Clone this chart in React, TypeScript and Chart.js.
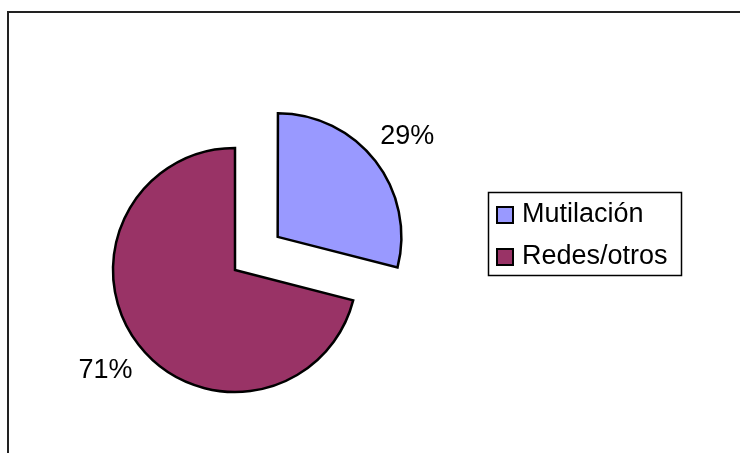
import React, { useEffect, useRef } from "react";
import { Chart, registerables } from "chart.js";

Chart.register(...registerables);

const categories = ["Mutilación", "Redes/otros"];
const values = [29, 71];
const valueLabels = ["29%", "71%"];
const colors = ["#9999FF", "#993366"];
const explode = [54, 0]; // pixels the slice is pulled out

const FONT = "27px 'Liberation Sans', Arial, sans-serif";

export default function App() {
  const ref = useRef<HTMLCanvasElement>(null);

  useEffect(() => {
    const canvas = ref.current;
    if (!canvas) return;

    const decorPlugin = {
      id: "decor",
      afterDraw(chart: any) {
        const ctx = chart.ctx;
        ctx.save();
        // outer frame
        ctx.strokeStyle = "#222";
        ctx.lineWidth = 2;
        ctx.strokeRect(8, 12, 900, 600);

        // percent labels
        const meta = chart.getDatasetMeta(0);
        ctx.font = FONT;
        ctx.fillStyle = "#000";
        ctx.textAlign = "center";
        ctx.textBaseline = "middle";
        meta.data.forEach((arc: any, i: number) => {
          const p = arc.getProps(["x", "y", "startAngle", "endAngle", "outerRadius"], true);
          const mid = (p.startAngle + p.endAngle) / 2;
          const d = explode[i] + p.outerRadius + 42;
          ctx.fillText(valueLabels[i], p.x + Math.cos(mid) * d, p.y + Math.sin(mid) * d);
        });

        // legend
        const lx = 488, ly = 192, lw = 193, lh = 83;
        ctx.lineWidth = 1.5;
        ctx.strokeStyle = "#000";
        ctx.strokeRect(lx + 0.5, ly + 0.5, lw, lh);
        categories.forEach((c, i) => {
          const cy = 215 + i * 42;
          ctx.fillStyle = colors[i];
          ctx.fillRect(497, cy - 8, 16, 16);
          ctx.lineWidth = 2;
          ctx.strokeStyle = "#000";
          ctx.strokeRect(497, cy - 8, 16, 16);
          ctx.fillStyle = "#000";
          ctx.textAlign = "left";
          ctx.textBaseline = "middle";
          ctx.fillText(c, 522, cy);
        });
        ctx.restore();
      },
    };

    const chart = new Chart(canvas, {
      type: "pie",
      data: {
        labels: categories,
        datasets: [
          {
            data: values,
            backgroundColor: colors,
            borderColor: "#000",
            borderWidth: 2.5,
            borderJoinStyle: "miter",
            // Chart.js translates an arc by offset / 4
            offset: explode.map((o) => o * 4),
          } as any,
        ],
      },
      options: {
        animation: false,
        responsive: false,
        radius: 122,
        layout: { padding: { left: 0, right: 270, top: 87, bottom: 0 } },
        plugins: {
          legend: { display: false },
          tooltip: { enabled: false },
        },
      } as any,
      plugins: [decorPlugin],
    });
    return () => chart.destroy();
  }, []);

  return (
    <div style={{ position: "fixed", left: 0, top: 0, width: 740, height: 453, background: "#fff" }}>
      <canvas ref={ref} width={740} height={453} style={{ width: 740, height: 453, display: "block" }} />
    </div>
  );
}
